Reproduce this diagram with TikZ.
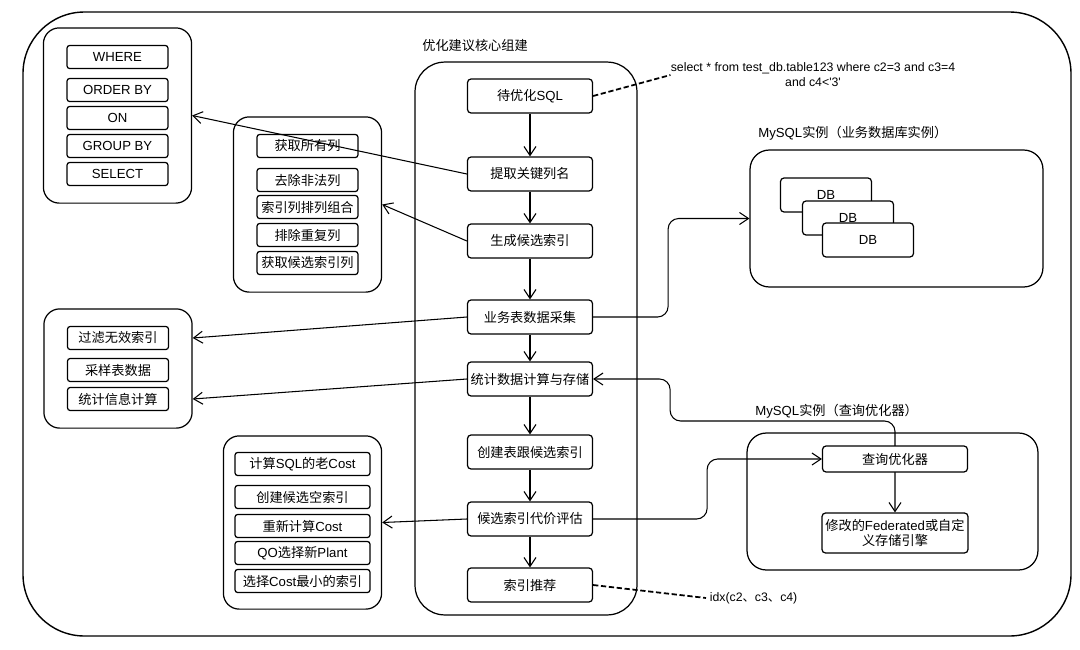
\documentclass[tikz,border=0pt]{standalone}
\usepackage{fontspec}
\setmainfont{Liberation Sans}
\newfontfamily\cjk{Noto Sans CJK SC}
\newcommand\zh[1]{{\cjk #1}}
\usetikzlibrary{arrows.meta, positioning, fit, backgrounds}

\begin{document}
\begin{tikzpicture}[
        x=0.02cm, y=-0.02cm,
        >={Straight Barb[length=1.8mm, width=2.4mm]},
        lbl/.style={inner sep=0pt, font=\fontsize{7.5}{9}\selectfont},
        grp/.style={draw, line width=0.7pt, rounded corners=9pt, inner xsep=0.46cm, inner ysep=0.34cm},
        itm/.style={draw, fill=white, line width=0.7pt, rounded corners=1.5pt, minimum width=2.02cm,
            minimum height=0.46cm, inner sep=0pt, font=\fontsize{7.5}{9}\selectfont},
        flow/.style={draw, fill=white, line width=0.7pt, rounded corners=2pt, minimum width=2.5cm,
            minimum height=0.68cm, inner sep=0pt, align=center, font=\fontsize{7.5}{9}\selectfont},
        inst/.style={draw, line width=0.7pt, rounded corners=11pt},
        db/.style={draw, fill=white, line width=0.7pt, rounded corners=2pt, minimum width=1.82cm,
            minimum height=0.68cm, inner sep=0pt, font=\fontsize{7.5}{9}\selectfont},
        rel/.style={->, line width=0.6pt},
        note/.style={dash pattern=on 3pt off 1.5pt, line width=1pt}
    ]
        \useasboundingbox (0,0) rectangle (1080,650);
        \draw[line width=0.8pt, rounded corners=35pt] (23,12) rectangle (1071,636);

        % core flow
        \node[lbl, anchor=west] (coretitle) at (422,46) {\zh{优化建议核心组建}};
        \node[draw, line width=0.7pt, rounded corners=17pt, minimum width=4.44cm, minimum height=11.06cm] (core) at (526,338.5) {};
        \node[flow] (sqlin) at (530,96) {\zh{待优化}SQL};
        \node[flow] (keycol) at (530,174) {\zh{提取关键列名}};
        \node[flow] (cand) at (530,241) {\zh{生成候选索引}};
        \node[flow] (collect) at (530,317) {\zh{业务表数据采集}};
        \node[flow] (stats) at (530,379) {\zh{统计数据计算与存储}};
        \node[flow] (mktab) at (530,452) {\zh{创建表跟候选索引}};
        \node[flow] (costev) at (530,519) {\zh{候选索引代价评估}};
        \node[flow] (recom) at (530,585) {\zh{索引推荐}};
        \draw[rel] (sqlin)--(keycol); \draw[rel] (keycol)--(cand); \draw[rel] (cand)--(collect);
        \draw[rel] (collect)--(stats); \draw[rel] (stats)--(mktab); \draw[rel] (mktab)--(costev);
        \draw[rel] (costev)--(recom);

        % key columns
        \node[itm] (w1) at (117.5,57) {WHERE};
        \node[itm] (w2) at (117.5,90) {ORDER BY};
        \node[itm] (w3) at (117.5,118) {ON};
        \node[itm] (w4) at (117.5,146) {GROUP BY};
        \node[itm] (w5) at (117.5,174) {SELECT};
        \node[grp, fit=(w1)(w5)] (g1) {};

        % candidate index
        \node[itm] (k1) at (307.5,146) {\zh{获取所有列}};
        \node[itm] (k2) at (307.5,180) {\zh{去除非法列}};
        \node[itm] (k3) at (307.5,207) {\zh{索引列排列组合}};
        \node[itm] (k4) at (307.5,235) {\zh{排除重复列}};
        \node[itm] (k5) at (307.5,263) {\zh{获取候选索引列}};
        \node[grp, fit=(k1)(k5)] (g2) {};

        % table data
        \node[itm] (f1) at (118,338) {\zh{过滤无效索引}};
        \node[itm] (f2) at (118,370) {\zh{采样表数据}};
        \node[itm] (f3) at (118,399) {\zh{统计信息计算}};
        \node[grp, fit=(f1)(f3)] (g3) {};

        % cost evaluation
        \node[itm, minimum width=2.7cm] (c1) at (302.5,464) {\zh{计算}SQL\zh{的老}Cost};
        \node[itm, minimum width=2.7cm] (c2) at (302.5,497) {\zh{创建候选空索引}};
        \node[itm, minimum width=2.7cm] (c3) at (302.5,526) {\zh{重新计算}Cost};
        \node[itm, minimum width=2.7cm] (c4) at (302.5,553) {QO\zh{选择新}Plant};
        \node[itm, minimum width=2.7cm] (c5) at (302.5,581) {\zh{选择}Cost\zh{最小的索引}};
        \node[grp, fit=(c1)(c5), inner xsep=0.22cm, inner ysep=0.32cm] (g4) {};

        % business instance
        \node[lbl, anchor=west] (bizlbl) at (758,133) {MySQL\zh{实例（业务数据库实例）}};
        \node[inst, minimum width=5.86cm, minimum height=2.74cm] (bizdb) at (896.5,218.5) {};
        \node[db] (db1) at (826,195) {DB};
        \node[db] (db2) at (848,218) {DB};
        \node[db] (db3) at (868,240) {DB};

        % optimizer instance
        \node[lbl, anchor=west] (qolbl) at (755,411) {MySQL\zh{实例（查询优化器）}};
        \node[inst, minimum width=5.82cm, minimum height=2.74cm] (qoinst) at (892.5,501.5) {};
        \node[flow, minimum width=2.9cm, minimum height=0.52cm] (qo) at (895,459) {\zh{查询优化器}};
        \node[flow, minimum width=2.92cm, minimum height=0.8cm] (fed) at (895,533) {\zh{修改的}Federated\zh{或自定}\\\zh{义存储引擎}};

        % notes
        \node[inner sep=0pt, align=center, font=\fontsize{7}{8.5}\selectfont] (sqltxt) at (813,75)
            {select * from test\_db.table123 where c2=3 and c3=4\\and c4<\textquotesingle 3\textquotesingle};
        \node[lbl, anchor=west, inner sep=2pt, font=\fontsize{7}{8.5}\selectfont] (idxtxt) at (706,598) {idx(c2\zh{、}c3\zh{、}c4)};
        \draw[note] (sqlin.east)--(sqltxt.west);
        \draw[note] (recom.east)--(idxtxt.west);

        % links
        \draw[rel] (keycol.west)--(g1.east);
        \draw[rel] (cand.west)--(g2.east);
        \draw[rel] (collect.west)--(g3.east |- f1);
        \draw[rel] (stats.west)--(g3.east |- f3);
        \draw[rel] (costev.west)--(g4.east);
        \draw[rel, rounded corners=6pt] (collect.east) -- ++(75,0) |- (bizdb.west);
        \draw[rel, rounded corners=6pt] (costev.east) -- ++(114,0) |- (qo.west);
        \begin{scope}[on background layer]
            \draw[rel, <->, rounded corners=6pt] (stats.east) -- ++(77,0) -- ++(0,42) -| (fed.north);
        \end{scope}
    \end{tikzpicture}
\end{document}
